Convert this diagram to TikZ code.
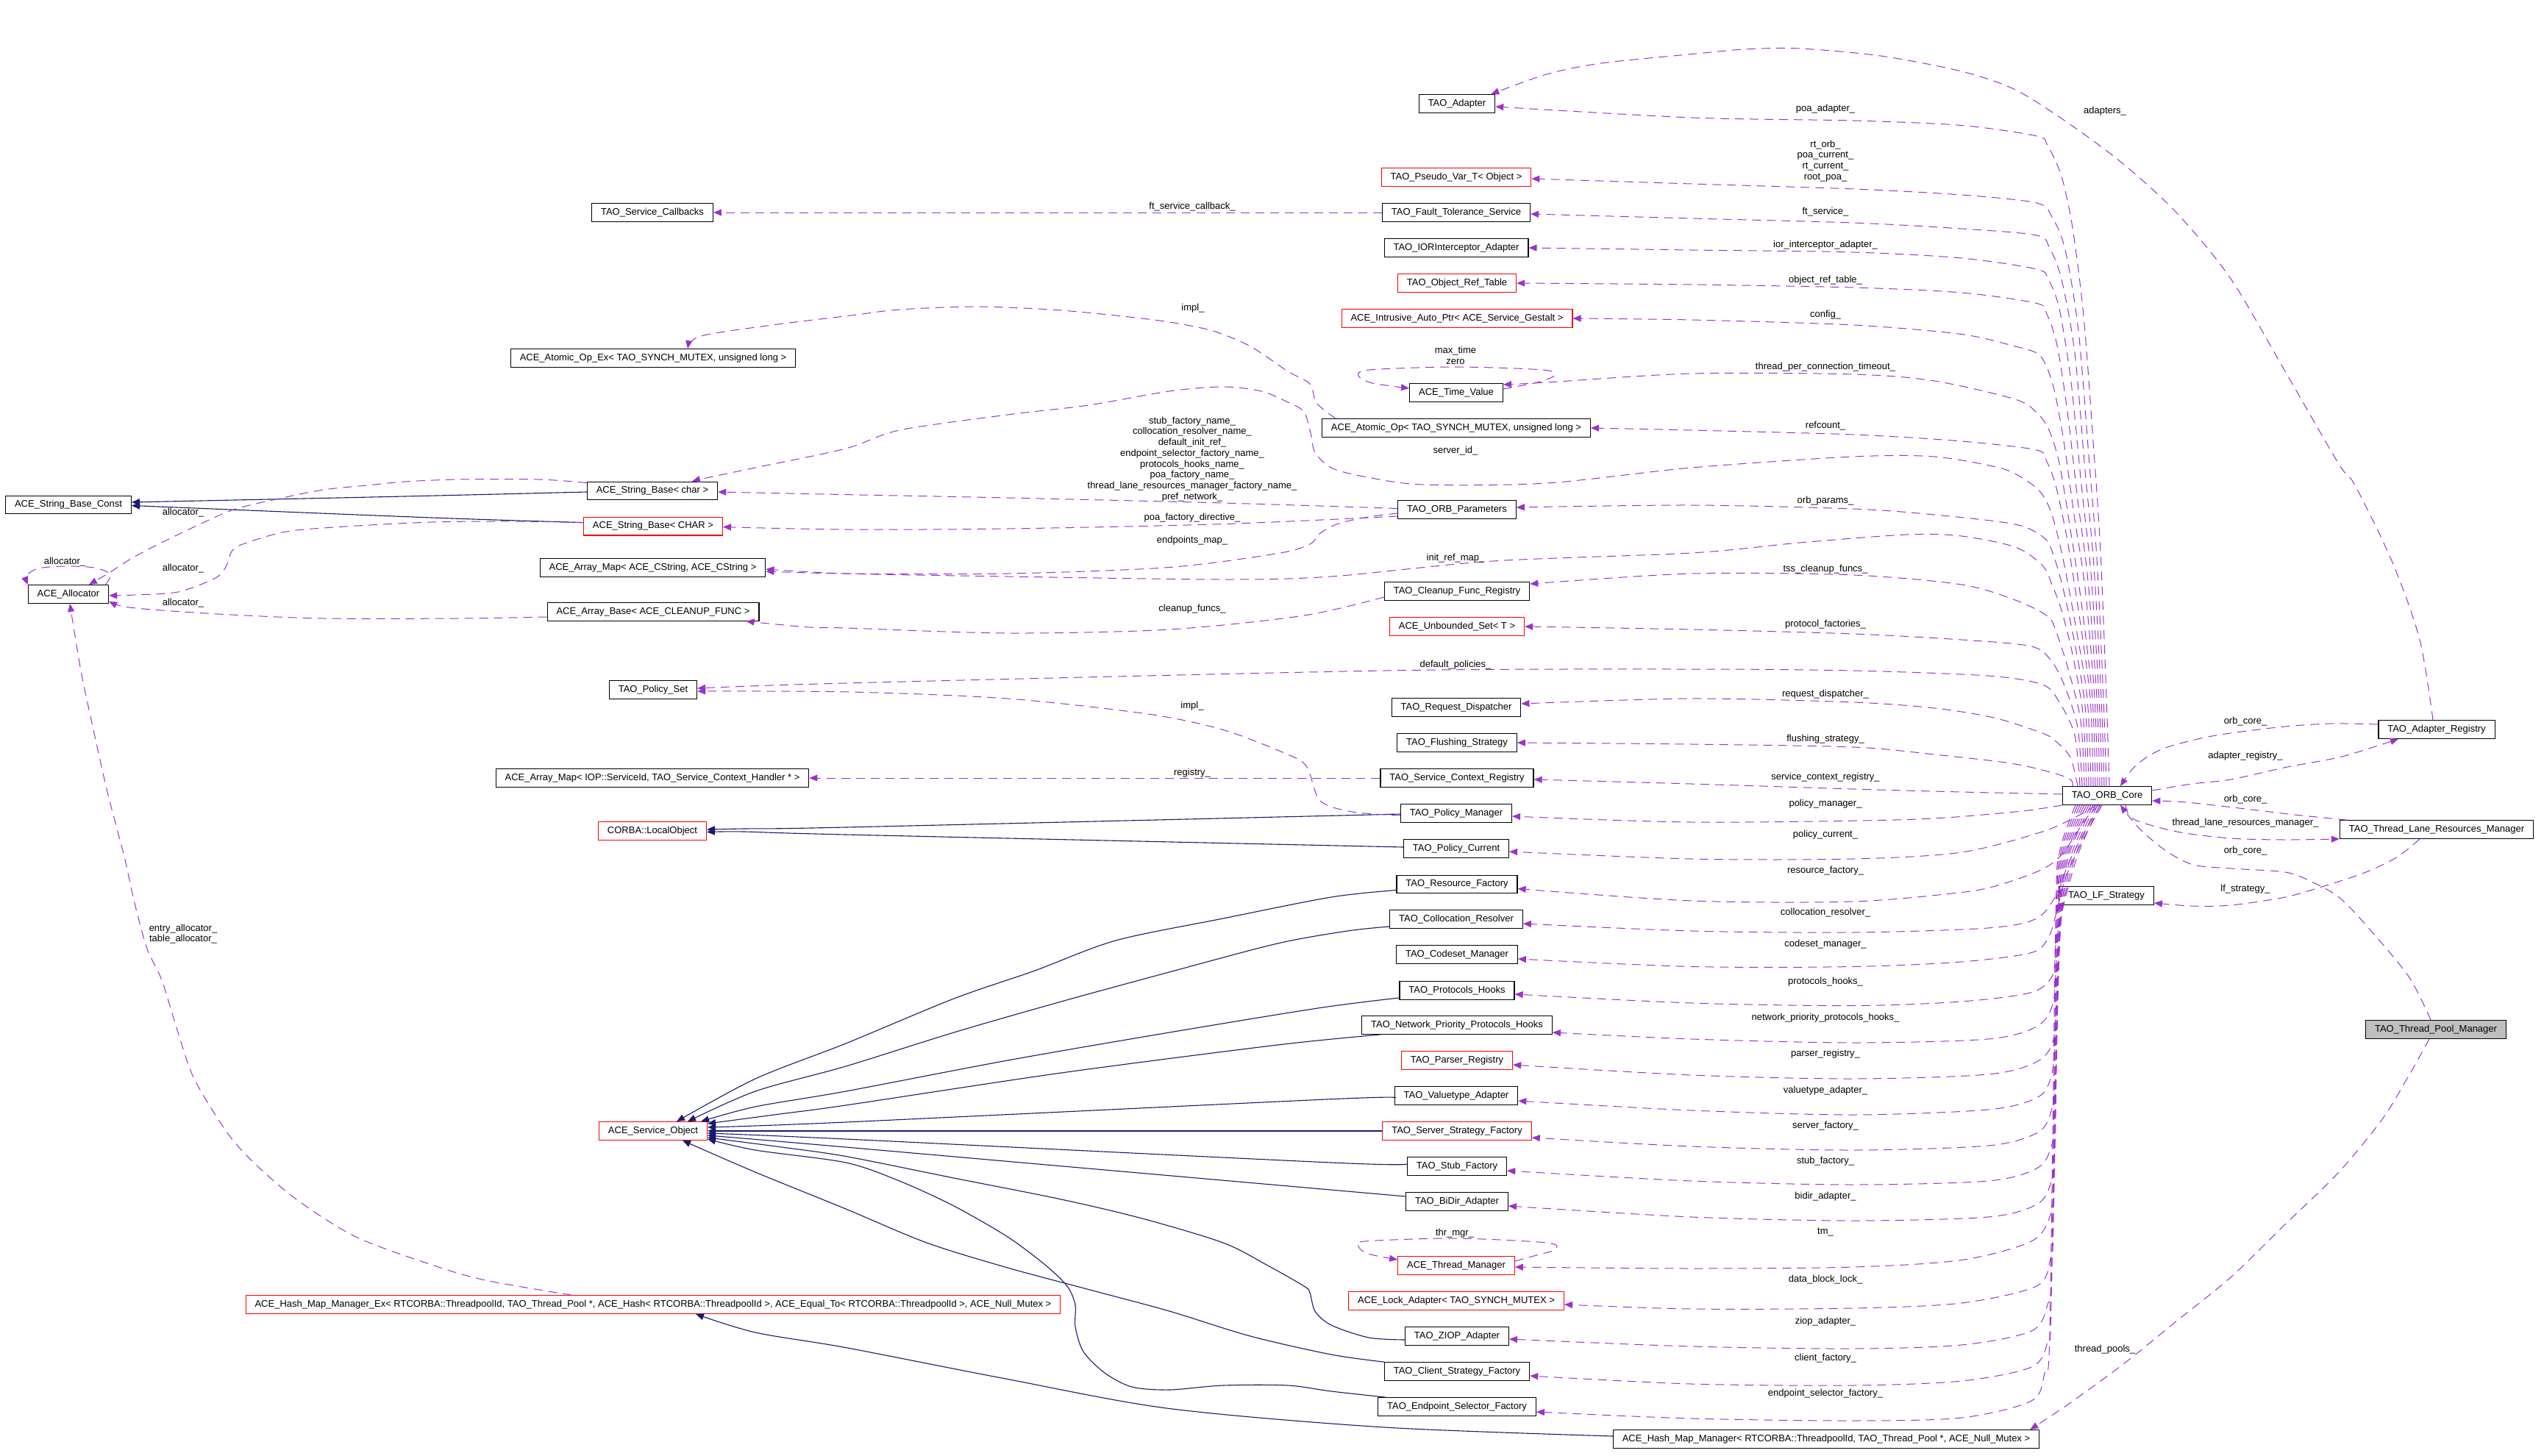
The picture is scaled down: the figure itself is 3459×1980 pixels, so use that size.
\documentclass[tikz,border=0pt]{standalone}
\usepackage{fontspec}
\setmainfont{Liberation Sans}
\usetikzlibrary{arrows.meta,calc}
\definecolor{purp}{HTML}{9A32CD}
\definecolor{navy}{HTML}{191970}
\definecolor{nodegray}{HTML}{BFBFBF}
\begin{document}
\catcode`\_=12
\begin{tikzpicture}[x=0.5pt,y=-0.5pt,
  box/.style={draw=black, line width=0.6pt, fill=white, font=\fontsize{6.5}{7.5}\selectfont, inner xsep=6.2pt, inner ysep=0pt, minimum height=12.3pt},
  redbox/.style={box, draw=red},
  graybox/.style={box, fill=nodegray},
  mem/.style={draw=purp, line width=0.5pt, dash pattern=on 6pt off 4pt, -{Triangle[length=5.5pt,width=4.5pt]}},
  inh/.style={draw=navy, line width=0.55pt, -{Triangle[length=5.5pt,width=4.5pt]}},
  lbl/.style={font=\fontsize{6.5}{7.37}\selectfont, inner sep=0pt, align=center}]
\useasboundingbox (0,0) rectangle (3459,1980);
% ---------------- nodes
\node[box] (sbc) at (93,686.5) {ACE_String_Base_Const};
\node[box] (alloc) at (93,808) {ACE_Allocator};
\node[box] (svccb) at (887,289) {TAO_Service_Callbacks};
\node[box] (aopex) at (888,487) {ACE_Atomic_Op_Ex< TAO_SYNCH_MUTEX, unsigned long >};
\node[box] (sbchar) at (887,667.5) {ACE_String_Base< char >};
\node[redbox] (sbCHAR) at (888,715.6) {ACE_String_Base< CHAR >};
\node[box] (amapcs) at (887.5,772) {ACE_Array_Map< ACE_CString, ACE_CString >};
\node[box] (abase) at (888,832) {ACE_Array_Base< ACE_CLEANUP_FUNC >};
\node[box] (pset) at (888,938) {TAO_Policy_Set};
\node[box] (amapiop) at (887,1058) {ACE_Array_Map< IOP::ServiceId, TAO_Service_Context_Handler * >};
\node[redbox] (lobj) at (887,1130) {CORBA::LocalObject};
\node[redbox] (svcobj) at (888,1538) {ACE_Service_Object};
\node[redbox] (hmmex) at (888,1774) {ACE_Hash_Map_Manager_Ex< RTCORBA::ThreadpoolId, TAO_Thread_Pool *, ACE_Hash< RTCORBA::ThreadpoolId >, ACE_Equal_To< RTCORBA::ThreadpoolId >, ACE_Null_Mutex >};

\node[box] (adapter) at (1981,141) {TAO_Adapter};
\node[redbox] (pvar) at (1980,241) {TAO_Pseudo_Var_T< Object >};
\node[box] (fts) at (1980,289) {TAO_Fault_Tolerance_Service};
\node[box] (ior) at (1980,337) {TAO_IORInterceptor_Adapter};
\node[redbox] (ort) at (1981,385) {TAO_Object_Ref_Table};
\node[redbox] (iap) at (1981,433) {ACE_Intrusive_Auto_Ptr< ACE_Service_Gestalt >};
\node[box] (tv) at (1980,534) {ACE_Time_Value};
\node[box] (aop) at (1980,582) {ACE_Atomic_Op< TAO_SYNCH_MUTEX, unsigned long >};
\node[box] (orbp) at (1981,693) {TAO_ORB_Parameters};
\node[box] (cfr) at (1981,804) {TAO_Cleanup_Func_Registry};
\node[redbox] (uset) at (1981,852) {ACE_Unbounded_Set< T >};
\node[box] (rd) at (1980,962) {TAO_Request_Dispatcher};
\node[box] (fs) at (1981,1010) {TAO_Flushing_Strategy};
\node[box] (scr) at (1981,1058) {TAO_Service_Context_Registry};
\node[box] (pm) at (1980,1106) {TAO_Policy_Manager};
\node[box] (pc) at (1980,1154) {TAO_Policy_Current};
\node[box] (rf) at (1981,1202.5) {TAO_Resource_Factory};
\node[box] (cr) at (1980,1250) {TAO_Collocation_Resolver};
\node[box] (cm) at (1981,1298) {TAO_Codeset_Manager};
\node[box] (ph) at (1981,1347) {TAO_Protocols_Hooks};
\node[box] (nph) at (1981,1394) {TAO_Network_Priority_Protocols_Hooks};
\node[redbox] (preg) at (1981,1442) {TAO_Parser_Registry};
\node[box] (vta) at (1980,1490) {TAO_Valuetype_Adapter};
\node[redbox] (ssf) at (1981,1538) {TAO_Server_Strategy_Factory};
\node[box] (stf) at (1981,1586) {TAO_Stub_Factory};
\node[box] (bidir) at (1981,1634) {TAO_BiDir_Adapter};
\node[redbox] (tmgr) at (1980,1721) {ACE_Thread_Manager};
\node[redbox] (lock) at (1980,1769) {ACE_Lock_Adapter< TAO_SYNCH_MUTEX >};
\node[box] (ziop) at (1981,1817) {TAO_ZIOP_Adapter};
\node[box] (csf) at (1981,1865) {TAO_Client_Strategy_Factory};
\node[box] (esf) at (1981,1913) {TAO_Endpoint_Selector_Factory};
\node[box] (hmm) at (2483,1957) {ACE_Hash_Map_Manager< RTCORBA::ThreadpoolId, TAO_Thread_Pool *, ACE_Null_Mutex >};

\node[box] (orb) at (2865,1082) {TAO_ORB_Core};
\node[box] (lf) at (2864,1218) {TAO_LF_Strategy};
\node[box] (areg) at (3313,992) {TAO_Adapter_Registry};
\node[box] (tlrm) at (3313,1128) {TAO_Thread_Lane_Resources_Manager};
\node[graybox] (tpm) at (3312,1400) {TAO_Thread_Pool_Manager};

% ---------------- inheritance edges
\draw[inh] plot[smooth,tension=.5] coordinates {($(sbchar.west)+(0,1.5)$) (550,675) ($(sbc.east)+(0,-3.5)$)};
\draw[inh] plot[smooth,tension=.5] coordinates {($(sbCHAR.west)+(0,-5)$) (587,704) ($(sbc.east)+(0,1)$)};
\draw[inh] plot[smooth,tension=.5] coordinates {($(pm.west)+(0,1)$) (1150,1125) (1012,1127) ($(lobj.east)+(0,-2)$)};
\draw[inh] plot[smooth,tension=.5] coordinates {($(pc.west)+(0,-2)$) (1150,1135) (1012,1131) ($(lobj.east)+(0,1.5)$)};
\draw[inh] plot[smooth,tension=.5] coordinates {($(rf.west)+(0,8)$) (1810,1220) (1663,1249) (1517,1279) (1407,1320) (1297,1358) (1150,1419) (1027,1467) ($(svcobj.north)+(32,0)$)};
\draw[inh] plot[smooth,tension=.5] coordinates {($(cr.west)+(0,10)$) (1832,1266) (1737,1283) (1597,1320) (1443,1362) (1297,1404) (1150,1450) (1027,1484) ($(svcobj.north)+(47,0)$)};
\draw[inh] plot[smooth,tension=.5] coordinates {($(ph.west)+(0,10)$) (1795,1370.5) (1590,1404) (1370,1442) (1150,1484) (1027,1505) ($(svcobj.north east)+(-9,0)$)};
\draw[inh] plot[smooth,tension=.5] coordinates {($(nph.south west)+(26,0)$) (1737,1421) (1443,1459) (1150,1503) (1060,1515) ($(svcobj.east)+(0,-10)$)};
\draw[inh] plot[smooth,tension=.5] coordinates {($(vta.west)+(0,3)$) (1810,1494.7) (1150,1526) ($(svcobj.east)+(0,-5)$)};
\draw[inh] (ssf.west) -- (svcobj.east);
\draw[inh] plot[smooth,tension=.5] coordinates {($(stf.west)+(0,-3)$) (1810,1581) (1150,1549) ($(svcobj.east)+(0,3)$)};
\draw[inh] plot[smooth,tension=.5] coordinates {($(bidir.west)+(0,-7)$) (1150,1560) ($(svcobj.east)+(0,6)$)};
\draw[inh] plot[smooth,tension=.5] coordinates {($(ziop.west)+(0,5)$) (1861,1819) (1810,1802) (1788,1783) (1781,1758) (1773,1749) (1722,1720) (1663,1690) (1553,1657) (1443,1631) (1297,1602) (1150,1572.5) (1063,1560) ($(svcobj.east)+(0,9)$)};
\draw[inh] plot[smooth,tension=.5] coordinates {(csf.north west) (1810,1842) (1700,1817) (1590,1783) (1480,1753.5) (1370,1724) (1260,1690) (1150,1644) (1027,1594) ($(svcobj.south)+(40,0)$)};
\draw[inh] plot[smooth,tension=.5] coordinates {($(esf.north west)+(11,0)$) (1810,1892) (1751,1884) (1663,1884) (1590,1890) (1539,1886) (1502,1867) (1473,1838) (1462,1804) (1462,1774.5) (1451,1749) (1421,1720) (1370,1682) (1297,1640) (1223,1606) (1150,1581) (1027,1564) ($(svcobj.east)+(0,11)$)};
\draw[inh] plot[smooth,tension=.5] coordinates {($(hmm.west)+(0,-4)$) (1883,1941) (1590,1915.5) (1370,1875.5) (1150,1832.6) (1027,1812) ($(hmmex.south)+(58,0)$)};

% ---------------- member edges (left part)
\draw[mem] plot[smooth,tension=.5] coordinates {($(alloc.north east)+(-5,0)$) (150,781) (128,772) (88,770) (52,773) (36,783) (alloc.north west)};
\draw[mem] plot[smooth,tension=.5] coordinates {($(sbchar.north west)+(0,2)$) (733,652) (623,652) (550,655) (499,660) (440,666) (380,678) (315,694) (242,727) (183,757) (150,778) ($(alloc.north)+(28,0)$)};
\draw[mem] plot[smooth,tension=.5] coordinates {($(sbCHAR.west)+(0,-5)$) (700,709) (587,710) (470,716) (389,723) (330,740) (315,750) (308,769) (293,786) (242,805) (183,809) ($(alloc.east)+(0,2)$)};
\draw[mem] plot[smooth,tension=.5] coordinates {($(abase.west)+(0,7)$) (623,841) (440,841) (315,836) (220,830) (169,825) ($(alloc.east)+(0,10)$)};
\draw[mem] plot[smooth,tension=.5] coordinates {($(hmmex.north)+(-111,0)$) (660,1741) (587,1720) (484,1682) (403,1631) (345,1581) (308,1539) (264,1467) (242,1404) (220,1333) (200,1290) (183,1228) (169,1165) (147,1081) (128,997) (110,912) ($(alloc.south)+(2,0)$)};
\draw[mem] (fts.west) -- (svccb.east);
\draw[mem] plot[smooth,tension=.5] coordinates {($(aop.north west)+(19,0)$) (1790,548) (1781,522) (1751,505) (1700,471) (1649,450) (1590,438) (1517,429) (1429,421) (1326,417) (1223,421) (1157,429) (1050,442) (953,457) ($(aopex.north)+(47,0)$)};
\draw[mem] plot[smooth,tension=.5] coordinates {($(pm.west)+(0,3)$) (1839,1104) (1795,1089) (1777,1043) (1751,1026) (1663,992.5) (1561,971) (1370,950) (1157,941) ($(pset.east)+(0,2)$)};
\draw[mem] plot[smooth,tension=.5] coordinates {($(orbp.west)+(0,-1.5)$) (1663,684) (1370,677) (1150,672.6) ($(sbchar.east)+(0,1.5)$)};
\draw[mem] plot[smooth,tension=.5] coordinates {($(orbp.west)+(0,9)$) (1663,712.6) (1370,719) (1150,720) ($(sbCHAR.east)+(0,1)$)};
\draw[mem] plot[smooth,tension=.5] coordinates {($(orbp.west)+(0,5)$) (1860,703) (1820,712) (1795,725) (1781,740) (1737,752.6) (1590,771.5) (1370,780) (1150,780) ($(amapcs.east)+(0,5)$)};
\draw[mem] plot[smooth,tension=.5] coordinates {($(cfr.west)+(0,8)$) (1773,837) (1590,856) (1370,861) (1150,854) (1100,853) ($(abase.south east)+(-18,0)$)};
\draw[mem] (scr.west) -- (amapiop.east);
\draw[mem] plot[smooth,tension=.5] coordinates {($(tv.east)+(0,-5)$) (2090,520) (2113,511) (2098,503) (1979,499) (1862,503) (1847,511) (1866,521) ($(tv.west)+(0,-6)$)};
\draw[mem] plot[smooth,tension=.5] coordinates {($(tmgr.east)+(0,-6)$) (2089,1707) (2115,1699) (2103,1690) (1978,1684) (1856,1688) (1847,1695) (1860,1705) ($(tmgr.west)+(0,-8)$)};

% ---------------- member edges from TAO_ORB_Core (upper)
\draw[mem] plot[smooth,tension=.5] coordinates {($(orb.north)+(3,0)$) (2864,950) (2856,750) (2846,600) (2833,430) (2818,310) (2803,240) (2784,198) (2769,185) (2667,170.5) (2520,164) (2300,160) ($(adapter.east)+(0,4)$)};
\draw[mem] plot[smooth,tension=.5] coordinates {($(orb.north)+(-1,0)$) (2860,950) (2851,760) (2840,620) (2826,450) (2808,340) (2790,295) (2769,276) (2667,265) (2520,257) (2300,250) ($(pvar.east)+(0,2)$)};
\draw[mem] plot[smooth,tension=.5] coordinates {($(orb.north)+(-4,0)$) (2857,950) (2847,770) (2835,640) (2821,480) (2803,380) (2787,338) (2769,320) (2667,311) (2520,303) (2300,297) ($(fts.east)+(0,2)$)};
\draw[mem] plot[smooth,tension=.5] coordinates {($(orb.north)+(-7,0)$) (2854,950) (2843,780) (2830,660) (2816,520) (2800,420) (2785,380) (2769,366) (2667,351) (2520,343) (2300,340) (ior.east)};
\draw[mem] plot[smooth,tension=.5] coordinates {($(orb.north)+(-10,0)$) (2851,950) (2839,790) (2825,680) (2811,560) (2797,470) (2783,427) (2769,412.5) (2667,398) (2520,391) (2300,387) (ort.east)};
\draw[mem] plot[smooth,tension=.5] coordinates {($(orb.north)+(-13,0)$) (2848,950) (2835,800) (2820,700) (2806,600) (2793,530) (2781,495) (2769,480) (2740,471) (2667,454.5) (2520,442) (2300,435) (iap.east)};
\draw[mem] plot[smooth,tension=.5] coordinates {($(orb.north)+(-16,0)$) (2845,950) (2830,820) (2815,720) (2800,630) (2786,585) (2770,562) (2740,543) (2630,518) (2520,509) (2300,508) (2103,520) ($(tv.north east)+(0,2)$)};
\draw[mem] plot[smooth,tension=.5] coordinates {($(orb.north)+(-19,0)$) (2842,950) (2826,830) (2810,730) (2795,660) (2783,628) (2769,612) (2667,600) (2520,591) (2300,585) (aop.east)};
\draw[mem] plot[smooth,tension=.5] coordinates {($(orb.north)+(-22,0)$) (2838,950) (2822,850) (2805,760) (2790,700) (2775,670) (2750,650) (2718,636) (2630,621) (2520,621) (2300,636) (2103,657) (1935,659) (1854,648) (1810,636) (1788,615) (1782,589) (1773,560) (1751,547) (1715,532) (1663,526) (1590,532) (1480,551) (1370,564) (1223,585) (1150,610) (1027,636) (960,650) ($(sbchar.north)+(54,0)$)};
\draw[mem] plot[smooth,tension=.5] coordinates {($(orb.north)+(-25,0)$) (2835,960) (2820,870) (2805,800) (2792,755) (2780,732) (2740,713) (2630,700) (2520,692) (2300,687) ($(orbp.east)+(0,-3)$)};
\draw[mem] plot[smooth,tension=.5] coordinates {($(orb.north)+(-28,0)$) (2832,970) (2818,890) (2803,830) (2790,795) (2777,769) (2740,744) (2667,729) (2593,727) (2447,738) (2300,752) (2030,763) (1810,784) (1663,788) (1370,784) (1150,780) ($(amapcs.east)+(0,2)$)};
\draw[mem] plot[smooth,tension=.5] coordinates {($(orb.north)+(-31,0)$) (2829,980) (2812,910) (2796,860) (2784,838) (2740,816) (2667,795) (2520,782) (2300,780) ($(cfr.north east)+(0,3)$)};
\draw[mem] plot[smooth,tension=.5] coordinates {($(orb.north)+(-34,0)$) (2825,990) (2808,935) (2790,900) (2762,879) (2667,870) (2520,862) (2300,856) (uset.east)};
\draw[mem] plot[smooth,tension=.5] coordinates {($(orb.north)+(-37,0)$) (2821,1000) (2800,955) (2777,931) (2703,919) (2520,912) (2300,910) (1883,912) (1150,929) ($(pset.east)+(0,-2)$)};
\draw[mem] plot[smooth,tension=.5] coordinates {($(orb.north)+(-40,0)$) (2815,1030) (2795,1008) (2777,997) (2711,976) (2630,963) (2520,955) (2300,950) ($(rd.east)+(0,-5)$)};
\draw[mem] plot[smooth,tension=.5] coordinates {($(orb.north)+(-47,0)$) (2810,1057) (2740,1039) (2630,1026) (2520,1016) (2300,1012) (fs.east)};
\draw[mem] plot[smooth,tension=.5] coordinates {($(orb.west)+(0,-2)$) (2667,1077) (2520,1073) (2300,1066) ($(scr.east)+(0,2)$)};
\draw[mem] plot[smooth,tension=.5] coordinates {(orb.south west) (2740,1104) (2593,1114.5) (2300,1118) ($(pm.east)+(0,4)$)};

% ---------------- member edges from TAO_ORB_Core (lower)
\draw[mem] plot[smooth,tension=.5] coordinates {($(orb.south)+(-15,0)$) (2828,1108) (2777,1131) (2667,1159) (2520,1168) (2300,1168) ($(pc.east)+(0,4)$)};
\draw[mem] plot[smooth,tension=.5] coordinates {($(orb.south)+(-12,0)$) (2835,1115) (2805,1160) (2777,1182) (2720,1203) (2667,1213.5) (2520,1226) (2300,1225) ($(rf.east)+(0,6)$)};
\draw[mem] plot[smooth,tension=.5] coordinates {($(orb.south)+(-9,0)$) (2835,1130) (2812,1175) (2797,1215) (2769,1249) (2703,1262) (2520,1268) (2300,1266) ($(cr.east)+(0,6)$)};
\draw[mem] plot[smooth,tension=.5] coordinates {($(orb.south)+(-7,0)$) (2833,1140) (2808,1195) (2795,1245) (2785,1275) (2762,1295.5) (2667,1308) (2520,1314.5) (2300,1314.5) ($(cm.east)+(0,6)$)};
\draw[mem] plot[smooth,tension=.5] coordinates {($(orb.south)+(-10,0)$) (2826,1160) (2806,1230) (2795,1285) (2791,1326) (2762,1349.5) (2667,1362) (2520,1367.6) (2300,1364) ($(ph.east)+(0,5)$)};
\draw[mem] plot[smooth,tension=.5] coordinates {($(orb.south)+(-13,0)$) (2823,1160) (2805,1232) (2796,1310) (2791,1366) (2769,1396) (2703,1413) (2520,1418) (2300,1413) ($(nph.east)+(0,10)$)};
\draw[mem] plot[smooth,tension=.5] coordinates {($(orb.south)+(-16,0)$) (2820,1160) (2804,1234) (2796,1360) (2791,1417) (2769,1444) (2703,1461) (2520,1467) (2300,1462) ($(preg.east)+(0,6)$)};
\draw[mem] plot[smooth,tension=.5] coordinates {($(orb.south)+(-19,0)$) (2817,1160) (2803,1236) (2795,1410) (2788,1467) (2769,1493) (2703,1509) (2520,1516) (2300,1510) ($(vta.east)+(0,7)$)};
\draw[mem] plot[smooth,tension=.5] coordinates {($(orb.south)+(-22,0)$) (2814,1160) (2802,1238) (2795,1460) (2788,1514) (2769,1541) (2703,1558) (2520,1564) (2300,1559) ($(ssf.east)+(0,9)$)};
\draw[mem] plot[smooth,tension=.5] coordinates {($(orb.south)+(-25,0)$) (2812,1160) (2801,1240) (2794,1510) (2788,1562) (2769,1589) (2703,1606) (2520,1611) (2300,1606) ($(stf.east)+(0,6)$)};
\draw[mem] plot[smooth,tension=.5] coordinates {($(orb.south)+(-28,0)$) (2810,1160) (2800,1242) (2794,1560) (2788,1610) (2769,1638) (2703,1655) (2520,1660) (2300,1655) ($(bidir.east)+(0,6)$)};
\draw[mem] plot[smooth,tension=.5] coordinates {($(orb.south)+(-31,0)$) (2808,1160) (2799,1244) (2793,1600) (2788,1652) (2762,1688) (2667,1713.5) (2520,1723) (2300,1725) ($(tmgr.east)+(0,2)$)};
\draw[mem] plot[smooth,tension=.5] coordinates {($(orb.south)+(-34,0)$) (2806,1160) (2798,1246) (2792,1660) (2788,1711) (2769,1749) (2667,1772) (2520,1779) (2300,1780) ($(lock.east)+(0,5)$)};
\draw[mem] plot[smooth,tension=.5] coordinates {($(orb.south)+(-37,0)$) (2804,1160) (2797,1248) (2790,1720) (2784,1774) (2762,1810) (2667,1829) (2520,1834) (2300,1831) ($(ziop.east)+(0,4)$)};
\draw[mem] plot[smooth,tension=.5] coordinates {($(orb.south)+(-40,0)$) (2802,1160) (2796,1250) (2789,1770) (2784,1825) (2762,1859) (2667,1878) (2520,1884) (2300,1882) ($(csf.east)+(0,6)$)};
\draw[mem] plot[smooth,tension=.5] coordinates {($(orb.south)+(-43,0)$) (2800,1160) (2795,1252) (2787,1810) (2780,1867) (2762,1905) (2667,1928) (2520,1932) (2300,1929) ($(esf.east)+(0,7)$)};

% ---------------- right side member edges
\draw[mem] plot[smooth,tension=.5] coordinates {($(areg.north)+(-5,0)$) (3290,870) (3253,765) (3202,660) (3180,631) (3107,505) (3033,379) (2960,290) (2887,223) (2813,168) (2740,122) (2667,97) (2557,76) (2447,66) (2373,67) (2300,73.6) (2177,86) (2103,101) ($(adapter.north east)+(-6,0)$)};
\draw[mem] plot[smooth,tension=.5] coordinates {($(areg.west)+(0,-7)$) (3170,984) (3107,988) (3040,996) (2997,1003) (2950,1015) (2923,1027) (2900,1045) ($(orb.north)+(18,0)$)};
\draw[mem] plot[smooth,tension=.5] coordinates {($(orb.east)+(0,-7)$) (2980,1066) (3033,1060) (3110,1043) (3180,1030) (3230,1015) ($(areg.south)+(-52,0)$)};
\draw[mem] plot[smooth,tension=.5] coordinates {($(tlrm.north west)+(10,0)$) (3120,1108) (3070,1102) (2997,1093.5) (2960,1090) ($(orb.east)+(0,7)$)};
\draw[mem] plot[smooth,tension=.5] coordinates {($(orb.south)+(25,0)$) (2901,1114) (2960,1131) (3033,1140) (3107,1142) (tlrm.south west)};
\draw[mem] plot[smooth,tension=.5] coordinates {($(tpm.north)+(-7,0)$) (3275,1328) (3217,1258) (3180,1220) (3143,1199) (3107,1186) (3033,1181) (2982,1176) (2945,1157) (2909,1127) ($(orb.south)+(18,0)$)};
\draw[mem] plot[smooth,tension=.5] coordinates {($(tlrm.south)+(-23,0)$) (3260,1165) (3217,1186) (3160,1205) (3107,1220) (3033,1231) (2980,1232) ($(lf.east)+(0,10)$)};
\draw[mem] plot[smooth,tension=.5] coordinates {($(tpm.south)+(-9,0)$) (3275,1463) (3239,1522) (3180,1594) (3107,1665) (3033,1737) (2960,1796) (2887,1855) (2813,1909) ($(hmm.north east)+(-13,0)$)};

% ---------------- labels
\node[lbl] (l1) at (249,697) {allocator_};
\node[lbl] (l2) at (88,764) {allocator_};
\node[lbl] (l3) at (249,773) {allocator_};
\node[lbl] (l4) at (249,820) {allocator_};
\node[lbl] (l5) at (249,1270) {entry_allocator_\\table_allocator_};
\node[lbl] (l6) at (1621,281) {ft_service_callback_};
\node[lbl] (l7) at (1622,419) {impl_};
\node[lbl] (l8) at (1621,624.4) {stub_factory_name_\\collocation_resolver_name_\\default_init_ref_\\endpoint_selector_factory_name_\\protocols_hooks_name_\\poa_factory_name_\\thread_lane_resources_manager_factory_name_\\pref_network_};
\node[lbl] (l9) at (1621,704) {poa_factory_directive_};
\node[lbl] (l10) at (1621,735) {endpoints_map_};
\node[lbl] (l11) at (1979,759) {init_ref_map_};
\node[lbl] (l12) at (1621,828) {cleanup_funcs_};
\node[lbl] (l13) at (1979,904.5) {default_policies_};
\node[lbl] (l14) at (1621,960) {impl_};
\node[lbl] (l15) at (1621,1051) {registry_};
\node[lbl] (l16) at (1979,483) {max_time\\zero};
\node[lbl] (l17) at (1979,613) {server_id_};
\node[lbl] (l18) at (1978,1677) {thr_mgr_};
\node[lbl] (r1) at (2482,148.6) {poa_adapter_};
\node[lbl] (r2) at (2482,219) {rt_orb_\\poa_current_\\rt_current_\\root_poa_};
\node[lbl] (r3) at (2482,288) {ft_service_};
\node[lbl] (r4) at (2482,333) {ior_interceptor_adapter_};
\node[lbl] (r5) at (2482,381) {object_ref_table_};
\node[lbl] (r6) at (2482,428) {config_};
\node[lbl] (r7) at (2482,498.7) {thread_per_connection_timeout_};
\node[lbl] (r8) at (2482,578.7) {refcount_};
\node[lbl] (r9) at (2482,681) {orb_params_};
\node[lbl] (r10) at (2482,774.5) {tss_cleanup_funcs_};
\node[lbl] (r11) at (2482,849) {protocol_factories_};
\node[lbl] (r12) at (2482,943.7) {request_dispatcher_};
\node[lbl] (r13) at (2482,1004.7) {flushing_strategy_};
\node[lbl] (r14) at (2482,1057) {service_context_registry_};
\node[lbl] (r15) at (2482,1093) {policy_manager_};
\node[lbl] (r16) at (2482,1134.7) {policy_current_};
\node[lbl] (r17) at (2482,1184) {resource_factory_};
\node[lbl] (r18) at (2482,1240.8) {collocation_resolver_};
\node[lbl] (r19) at (2482,1284.6) {codeset_manager_};
\node[lbl] (r20) at (2482,1334.7) {protocols_hooks_};
\node[lbl] (r21) at (2482,1384) {network_priority_protocols_hooks_};
\node[lbl] (r22) at (2482,1432.8) {parser_registry_};
\node[lbl] (r23) at (2482,1483) {valuetype_adapter_};
\node[lbl] (r24) at (2482,1531) {server_factory_};
\node[lbl] (r25) at (2482,1578.8) {stub_factory_};
\node[lbl] (r26) at (2482,1626.8) {bidir_adapter_};
\node[lbl] (r27) at (2482,1675.6) {tm_};
\node[lbl] (r28) at (2482,1739.6) {data_block_lock_};
\node[lbl] (r29) at (2482,1796.9) {ziop_adapter_};
\node[lbl] (r30) at (2482,1847) {client_factory_};
\node[lbl] (r31) at (2482,1895) {endpoint_selector_factory_};
\node[lbl] (r32) at (2862,150.7) {adapters_};
\node[lbl] (r33) at (3053,980.7) {orb_core_};
\node[lbl] (r34) at (3053,1027.8) {adapter_registry_};
\node[lbl] (r35) at (3053,1086.8) {orb_core_};
\node[lbl] (r36) at (3053,1118.7) {thread_lane_resources_manager_};
\node[lbl] (r37) at (3053,1157) {orb_core_};
\node[lbl] (r38) at (3053,1208.8) {lf_strategy_};
\node[lbl] (r39) at (2862,1835.6) {thread_pools_};
\end{tikzpicture}
\end{document}
